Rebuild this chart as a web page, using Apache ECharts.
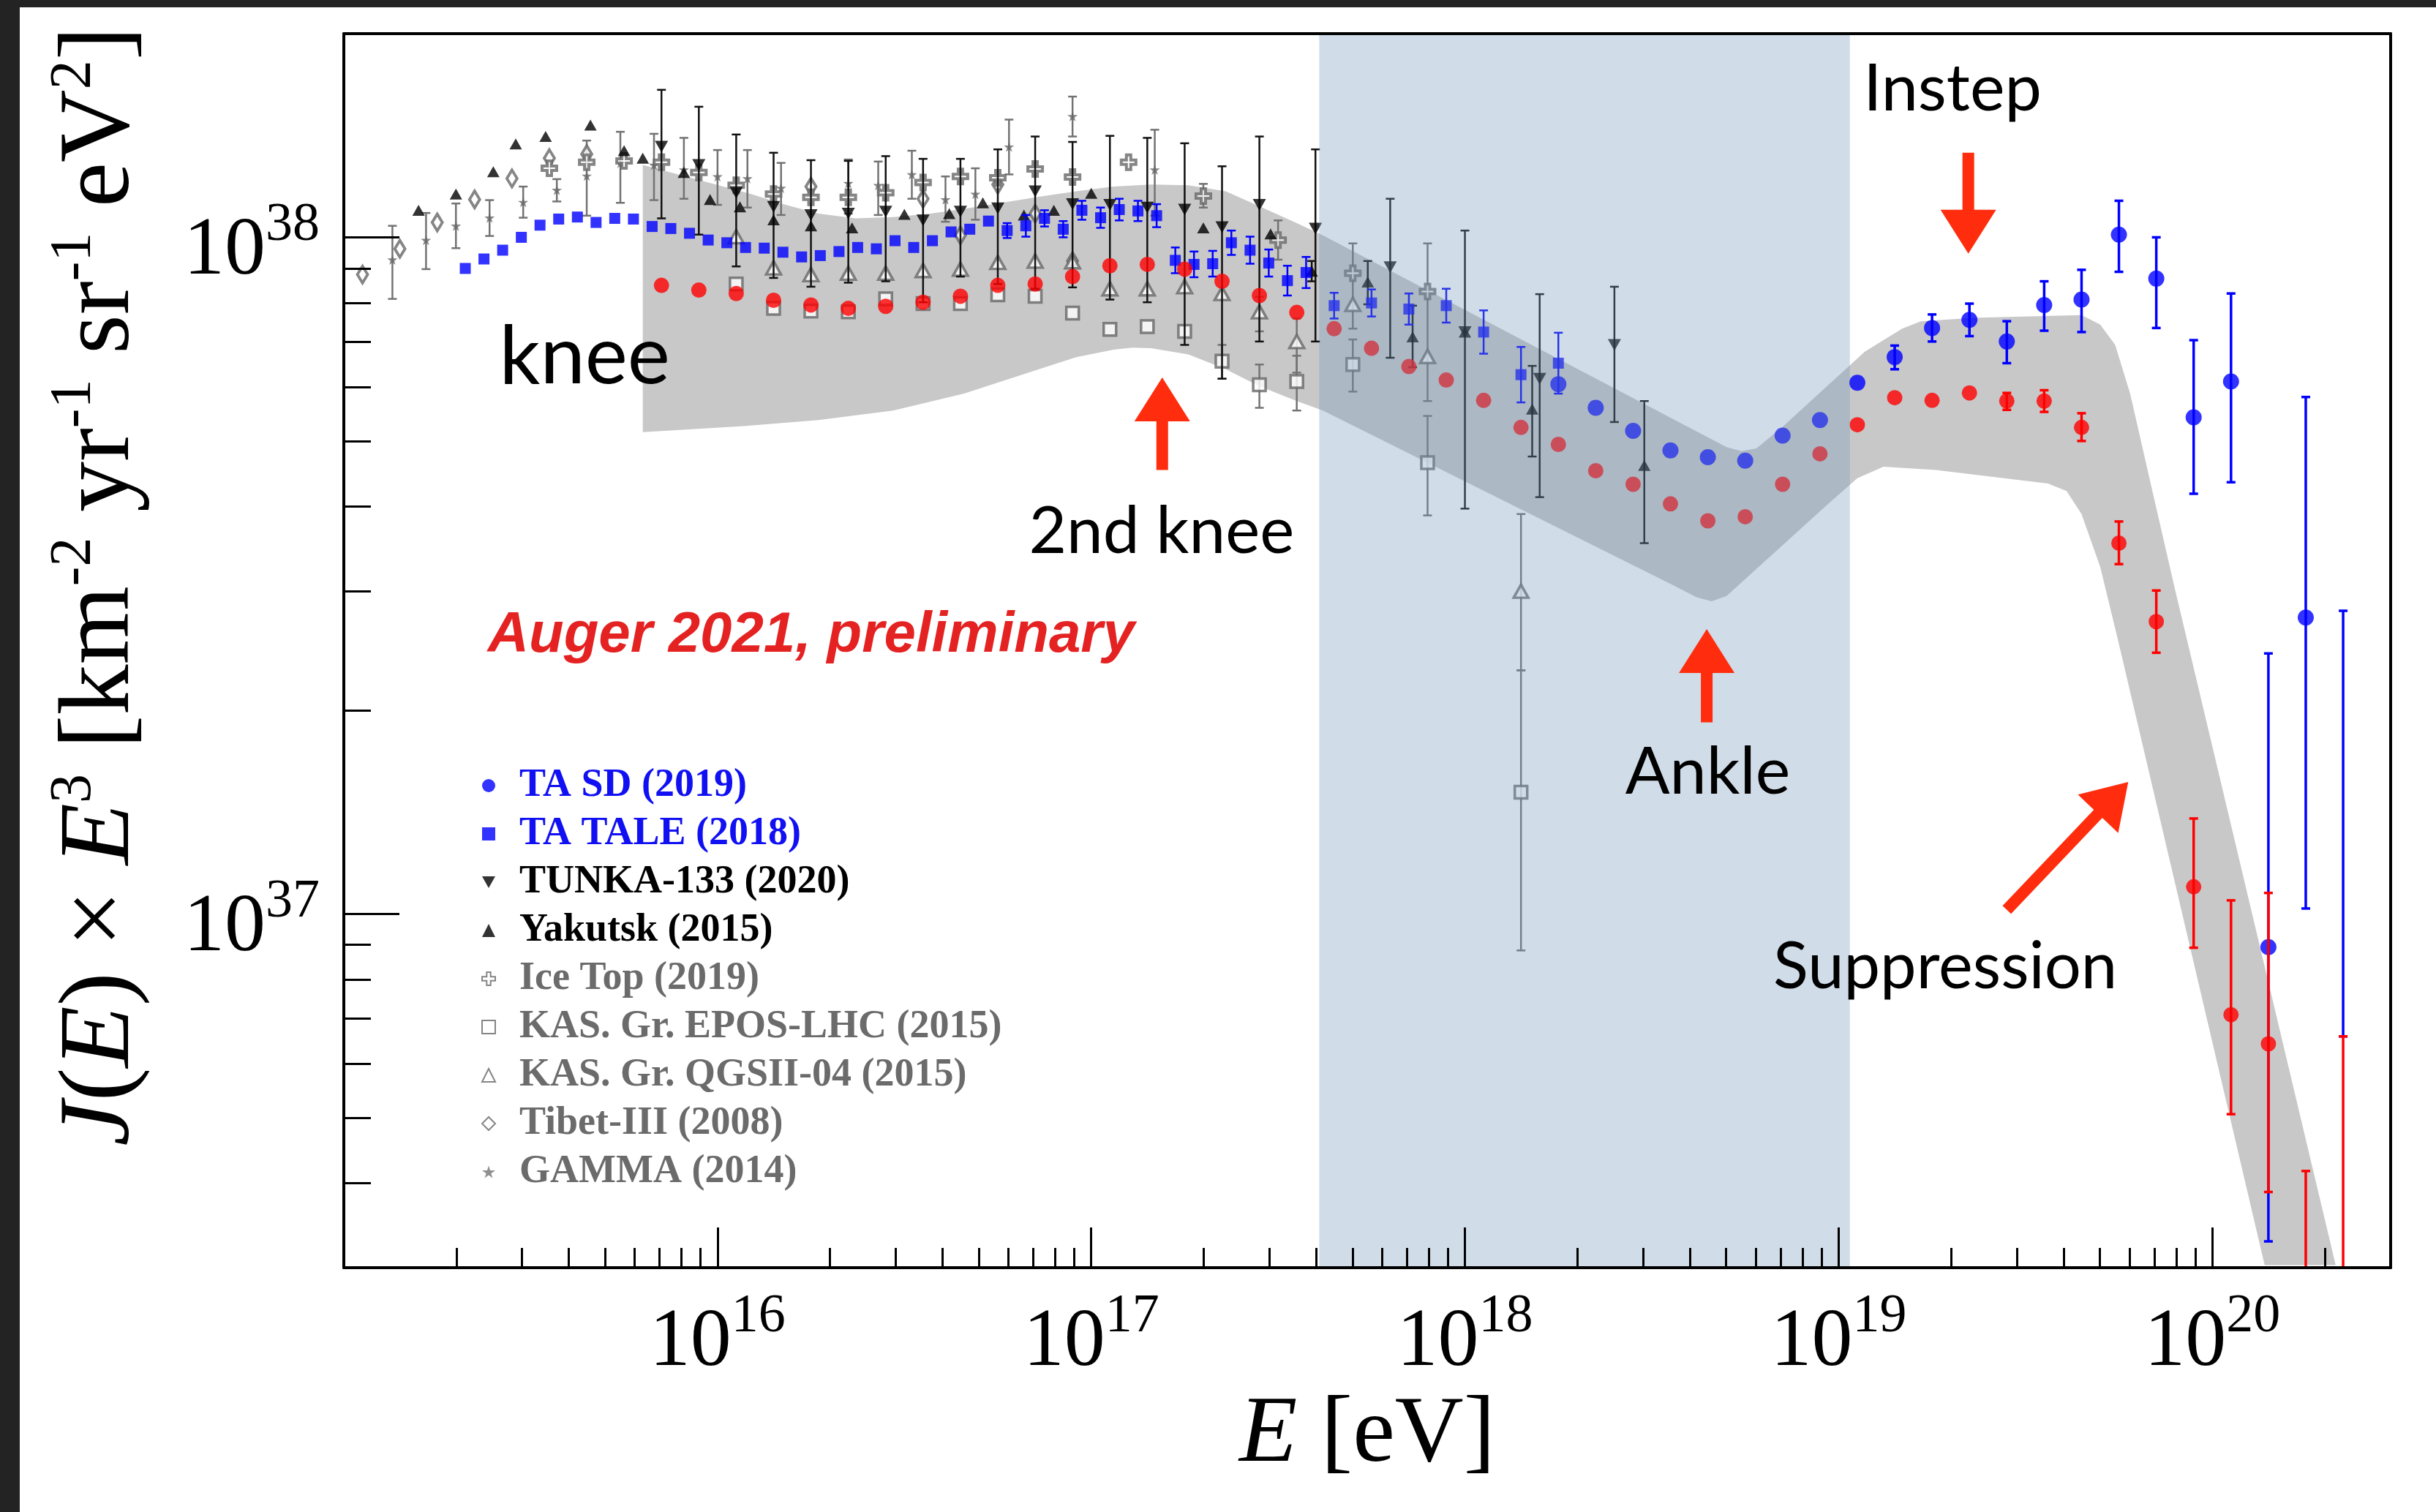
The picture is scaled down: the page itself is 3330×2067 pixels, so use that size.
<!DOCTYPE html>
<html>
<head>
<meta charset="utf-8">
<script src="https://cdn.jsdelivr.net/npm/echarts@6/dist/echarts.min.js"></script>
<style>
html,body{margin:0;padding:0;background:#fff;}
#main{width:3330px;height:2067px;}
</style>
</head>
<body>
<div id="main"></div>
<script>
// Axes are drawn in log10 units: x = log10(E / eV), y = log10(J(E) E^3 / km^-2 yr^-1 sr^-1 eV^2)
const xDecades = [16, 17, 18, 19, 20];
const yDecades = [37, 38];
const minorMultipliers = [2, 3, 4, 5, 6, 7, 8, 9];
const xRange = [15, Math.log10(3e20)];
const yRange = [Math.log10(3e36), Math.log10(2e38)];

// Auger 2021 (preliminary)
const augerLgE = [15.85,15.95,16.05,16.15,16.25,16.35,16.45,16.55,16.65,16.75,16.85,16.95,17.05,17.15,17.25,17.35,17.45,17.55,17.65,17.75,17.85,17.95,18.05,18.15,18.25,18.35,18.45,18.55,18.65,18.75,18.85,18.95,19.05,19.15,19.25,19.35,19.45,19.55,19.65,19.75,19.85,19.95,20.05,20.15];
const augerLgJ = [37.929,37.922,37.917,37.907,37.900,37.895,37.898,37.904,37.913,37.929,37.931,37.942,37.958,37.960,37.953,37.935,37.914,37.889,37.865,37.836,37.809,37.789,37.759,37.719,37.694,37.655,37.635,37.606,37.581,37.587,37.635,37.680,37.723,37.763,37.759,37.770,37.758,37.758,37.719,37.548,37.432,37.040,36.851,36.808];
const augerErrLgE = [19.45,19.55,19.65,19.75,19.85,19.95,20.05,20.15,20.25,20.35];
const augerErrLo  = [37.745,37.742,37.699,37.517,37.386,36.950,36.704,36.589,36.30,36.30];
const augerErrHi  = [37.770,37.774,37.740,37.580,37.478,37.141,37.020,37.031,36.620,36.819];

// TA SD (2019)
const tasdLgE = [18.25,18.35,18.45,18.55,18.65,18.75,18.85,18.95,19.05,19.15,19.25,19.35,19.45,19.55,19.65,19.75,19.85,19.95,20.05,20.15,20.25];
const tasdLgJ = [37.783,37.748,37.714,37.685,37.675,37.670,37.707,37.730,37.785,37.823,37.866,37.878,37.846,37.900,37.908,38.004,37.939,37.734,37.787,36.951,37.438];
const tasdErrLgE = [19.15,19.25,19.35,19.45,19.55,19.65,19.75,19.85,19.95,20.05,20.15,20.25,20.35];
const tasdErrLo  = [37.805,37.846,37.854,37.814,37.862,37.860,37.949,37.866,37.621,37.638,36.516,37.008,36.819];
const tasdErrHi  = [37.840,37.886,37.902,37.876,37.935,37.952,38.054,38.000,37.848,37.917,37.385,37.764,37.448];

// TA TALE (2018)
const taleLgE = [15.325,15.375,15.425,15.475,15.525,15.575,15.625,15.675,15.725,15.775,15.825,15.875,15.925,15.975,16.025,16.075,16.125,16.175,16.225,16.275,16.325,16.375,16.425,16.475,16.525,16.575,16.625,16.675,16.725,16.775,16.825,16.875,16.925,16.975,17.025,17.075,17.125,17.175,17.225,17.275,17.325,17.375,17.425,17.475,17.525,17.575,17.65,17.75,17.85,17.95,18.05,18.15,18.25];
const taleLgJ = [37.954,37.968,37.981,38.000,38.018,38.027,38.030,38.022,38.028,38.027,38.016,38.013,38.006,37.996,37.992,37.985,37.984,37.978,37.971,37.973,37.979,37.985,37.983,37.995,37.985,37.995,38.008,38.012,38.024,38.010,38.017,38.028,38.012,38.040,38.029,38.041,38.039,38.032,37.966,37.960,37.961,37.992,37.981,37.962,37.936,37.948,37.899,37.903,37.894,37.899,37.860,37.797,37.814];
const taleErr = [0,0,0,0,0,0,0,0,0,0,0,0,0,0,0,0,0,0,0,0,0,0,0,0,0,0,0,0,0,0.011,0.016,0.012,0.012,0.014,0.015,0.016,0.015,0.017,0.019,0.019,0.019,0.018,0.020,0.020,0.022,0.023,0.019,0.020,0.023,0.025,0.032,0.041,0.045];

// TUNKA-133 (2020)
const tunkaLgE = [15.85,15.95,16.05,16.15,16.25,16.35,16.45,16.55,16.65,16.75,16.85,16.95,17.05,17.15,17.25,17.35,17.45,17.60,17.80,18.00,18.20,18.40];
const tunkaLgJ = [38.134,38.107,38.066,38.045,38.033,38.035,38.038,38.025,38.038,38.043,38.068,38.049,38.048,38.044,38.041,38.015,38.048,38.013,37.956,37.860,37.791,37.841];
const tunkaLo  = [38.028,38.004,37.957,37.940,37.927,37.933,37.935,37.904,37.942,37.931,37.924,37.926,37.908,37.904,37.841,37.791,37.846,37.846,37.822,37.599,37.616,37.727];
const tunkaHi  = [38.218,38.193,38.152,38.125,38.114,38.113,38.120,38.116,38.116,38.130,38.149,38.141,38.150,38.147,38.139,38.105,38.149,38.130,38.057,38.010,37.916,37.927];

// Yakutsk (2015)
const yakLgE = [15.20,15.30,15.40,15.46,15.54,15.66,15.75,15.80,15.91,15.98,16.06,16.15,16.25,16.36,16.50,16.62,16.71,16.82,16.90,17.00,17.30,17.48,17.59,17.74,17.86,18.00,18.18,18.48];
const yakLgJ = [38.040,38.064,38.097,38.138,38.149,38.166,38.128,38.117,38.096,38.056,38.045,38.026,38.017,38.014,38.034,38.035,38.051,38.033,38.040,38.065,38.014,38.005,37.950,37.934,37.853,37.860,37.746,37.663];
const yakErrLgE = [17.59,17.74,17.86,18.18,18.48];
const yakErrLo  = [37.935,37.901,37.808,37.676,37.548];
const yakErrHi  = [37.965,37.965,37.899,37.810,37.758];

// IceTop (2019)
const iceLgE = [15.55,15.65,15.75,15.85,15.95,16.05,16.15,16.25,16.35,16.45,16.55,16.65,16.75,16.85,16.95,17.10,17.30,17.50,17.70,17.90];
const iceLgJ = [38.102,38.111,38.113,38.111,38.096,38.077,38.064,38.059,38.059,38.066,38.081,38.090,38.088,38.101,38.089,38.111,38.061,37.996,37.947,37.920];
const iceErrLgE = [17.30,17.50,17.70,17.90];
const iceErrLo  = [38.044,37.967,37.865,37.758];
const iceErrHi  = [38.079,38.025,37.991,37.991];

// KASCADE-Grande, EPOS-LHC (2015)
const kgEposLgE = [16.05,16.15,16.25,16.35,16.45,16.55,16.65,16.75,16.85,16.95,17.05,17.15,17.25,17.35,17.45,17.55,17.70,17.90,18.15];
const kgEposLgJ = [37.931,37.895,37.891,37.890,37.909,37.902,37.902,37.915,37.913,37.888,37.864,37.868,37.861,37.817,37.782,37.787,37.812,37.667,37.180];
const kgEposErrLgE = [17.35,17.45,17.55,17.70,17.90,18.15];
const kgEposErrLo  = [37.791,37.748,37.744,37.772,37.589,36.946];
const kgEposErrHi  = [37.841,37.812,37.825,37.849,37.736,37.360];

// KASCADE-Grande, QGSJet-II-04 (2015)
const kgQgsLgE = [16.05,16.15,16.25,16.35,16.45,16.55,16.65,16.75,16.85,16.95,17.05,17.15,17.25,17.35,17.45,17.55,17.70,17.90,18.15];
const kgQgsLgJ = [38.001,37.955,37.945,37.947,37.947,37.951,37.953,37.963,37.965,37.964,37.924,37.924,37.927,37.917,37.890,37.846,37.901,37.824,37.477];
const kgQgsErrLgE = [17.45,17.55,18.15];
const kgQgsErrLo  = [37.861,37.800,37.360];
const kgQgsErrHi  = [37.912,37.880,37.591];

// Tibet-III (2008)
const tibetLgE = [15.05,15.15,15.25,15.35,15.45,15.55,15.65,16.25,16.55,16.65,16.75,16.85,16.95];
const tibetLgJ = [37.945,37.983,38.022,38.056,38.087,38.117,38.123,38.075,38.057,38.003,38.078,38.035,37.965];

// GAMMA (2014)
const gammaLgE = [15.13,15.22,15.30,15.39,15.48,15.57,15.65,15.74,15.83,15.91,16.00,16.08,16.17,16.35,16.43,16.52,16.61,16.69,16.78,16.95,17.17];
const gammaLgJ = [37.967,37.996,38.017,38.029,38.052,38.070,38.091,38.110,38.107,38.100,38.090,38.087,38.073,38.080,38.077,38.093,38.056,38.064,38.134,38.179,38.100];
const gammaLo  = [37.909,37.953,37.984,38.002,38.029,38.053,38.032,38.051,38.055,38.057,38.048,38.044,38.033,38.035,38.033,38.057,38.023,38.026,38.093,38.149,38.032];
const gammaHi  = [38.017,38.036,38.050,38.055,38.075,38.086,38.143,38.156,38.153,38.147,38.129,38.129,38.110,38.115,38.112,38.128,38.090,38.102,38.174,38.208,38.159];

// schematic band: upper and lower edges
const bandUpLgE = [15.80,16.09,16.17,16.27,16.37,16.47,16.57,16.66,16.76,16.86,16.96,17.06,17.16,17.26,17.36,17.45,17.55,17.62,18.70,18.74,18.78,18.85,19.07,19.17,19.22,19.36,19.65,19.70,19.74,19.78,19.83,19.90,20.33];
const bandUpLgJ = [38.107,38.064,38.050,38.035,38.028,38.030,38.035,38.042,38.051,38.060,38.068,38.075,38.078,38.077,38.068,38.046,38.021,38.003,37.690,37.684,37.688,37.720,37.831,37.865,37.876,37.881,37.885,37.871,37.841,37.769,37.648,37.480,36.481];
const bandLoLgE = [15.80,16.07,16.27,16.47,16.66,16.86,16.96,17.06,17.11,17.16,17.26,17.36,17.45,17.55,17.62,18.56,18.62,18.66,18.70,18.76,18.97,19.05,19.12,19.26,19.56,19.61,19.65,19.70,19.75,20.14];
const bandLoLgJ = [37.712,37.721,37.730,37.744,37.769,37.805,37.823,37.834,37.837,37.836,37.827,37.805,37.780,37.758,37.744,37.485,37.468,37.462,37.470,37.500,37.605,37.644,37.661,37.656,37.636,37.625,37.591,37.513,37.399,36.481];

// energy interval highlighted in blue
const shadedLgE = [17.61, 19.03];

// annotation arrows: tail (lgE, lgJ) -> tip (lgE, lgJ)
const arrows = [
  [17.19, 37.656, 17.19, 37.793],
  [18.647, 37.283, 18.647, 37.421],
  [19.347, 38.125, 19.347, 37.976],
  [19.45, 37.006, 19.775, 37.195]
];
const notes = [
  {text: 'knee', at: [15.416, 37.823], size: 110},
  {text: '2nd knee', at: [16.833, 37.564], size: 89},
  {text: 'Ankle', at: [18.429, 37.209], size: 90},
  {text: 'Instep', at: [19.066, 38.219], size: 90},
  {text: 'Suppression', at: [18.825, 36.921], size: 88.5},
  {text: 'Auger 2021, preliminary', at: [15.385, 37.411], size: 78, color: '#e52222', weight: 'bold', style: 'italic', family: '"Liberation Sans", Arial, sans-serif'}
];

const SERIF = '"Liberation Serif", "Times New Roman", serif';
const SANS = 'Lato, "Noto Sans", sans-serif';
const GREY = '#666666';
const RED = '#ff0000';
const BLUE = '#0000ff';
const ARROW = '#ff2d0d';

function minorTicks(decades, lo, hi) {
  const out = [];
  decades.forEach(n => minorMultipliers.forEach(k => {
    const v = n + Math.log10(k);
    if (v > lo && v < hi) out.push(v);
  }));
  return out;
}
const xMinor = minorTicks([15, 16, 17, 18, 19, 20], xRange[0], xRange[1]);
const yMinor = minorTicks([36, 37, 38], yRange[0], yRange[1]);

const pairs = (xs, ys) => xs.map((x, i) => [x, ys[i]]);
const triples = (xs, lo, hi) => xs.map((x, i) => [x, lo[i], hi[i]]);

function errorBars(name, data, color, width, cap, z) {
  return {
    type: 'custom', name: name, z: z, clip: true, silent: true,
    encode: {x: 0, y: [1, 2]},
    data: data,
    renderItem: function (params, api) {
      const x = api.value(0);
      const a = api.coord([x, api.value(2)]);
      const b = api.coord([x, api.value(1)]);
      const st = {stroke: color, lineWidth: width};
      return {type: 'group', children: [
        {type: 'line', shape: {x1: a[0], y1: a[1], x2: b[0], y2: b[1]}, style: st},
        {type: 'line', shape: {x1: a[0] - cap, y1: a[1], x2: a[0] + cap, y2: a[1]}, style: st},
        {type: 'line', shape: {x1: b[0] - cap, y1: b[1], x2: b[0] + cap, y2: b[1]}, style: st}
      ]};
    }
  };
}

function points(name, data, symbol, size, itemStyle, z, extra) {
  return Object.assign({
    type: 'scatter', name: name, data: data, symbol: symbol, symbolSize: size,
    itemStyle: itemStyle, z: z, silent: true, animation: false
  }, extra || {});
}

const taleBars = [];
taleLgE.forEach((x, i) => { if (taleErr[i] > 0) taleBars.push([x, taleLgJ[i] - taleErr[i], taleLgJ[i] + taleErr[i]]); });

const PLUS = 'path://M35,0H65V35H100V65H65V100H35V65H0V35H35Z';
const STAR = 'path://M50,0L61,35L98,35L68,57L79,91L50,70L21,91L32,57L2,35L39,35Z';
const DOWN = 'path://M0,0L100,0L50,88Z';
const hollow = {color: '#ffffff', borderColor: GREY, borderWidth: 4};

const series = [
  // band
  {
    type: 'custom', name: 'band', z: 1, silent: true, clip: true,
    data: [[bandUpLgE[0], bandUpLgJ[0]]],
    renderItem: function (params, api) {
      const pts = [];
      bandUpLgE.forEach((x, i) => pts.push(api.coord([x, bandUpLgJ[i]])));
      for (let i = bandLoLgE.length - 1; i >= 0; i--) pts.push(api.coord([bandLoLgE[i], bandLoLgJ[i]]));
      return {type: 'polygon', shape: {points: pts, smooth: 0}, style: {fill: '#c8c8c8'}};
    }
  },
  errorBars('GAMMA err', triples(gammaLgE, gammaLo, gammaHi), '#737373', 2.5, 6, 3),
  errorBars('IceTop err', triples(iceErrLgE, iceErrLo, iceErrHi), '#737373', 2.5, 6, 3),
  errorBars('KG EPOS err', triples(kgEposErrLgE, kgEposErrLo, kgEposErrHi), '#737373', 2.5, 6, 3),
  errorBars('KG QGS err', triples(kgQgsErrLgE, kgQgsErrLo, kgQgsErrHi), '#737373', 2.5, 6, 3),
  points('GAMMA (2014)', pairs(gammaLgE, gammaLgJ), STAR, 14, {color: '#666666'}, 3),
  points('Tibet-III (2008)', pairs(tibetLgE, tibetLgJ), 'diamond', [14, 23], hollow, 3),
  points('KAS. Gr. QGSII-04 (2015)', pairs(kgQgsLgE, kgQgsLgJ), 'triangle', [20, 18], Object.assign({}, hollow, {borderWidth: 3.5}), 3),
  points('KAS. Gr. EPOS-LHC (2015)', pairs(kgEposLgE, kgEposLgJ), 'rect', 17, Object.assign({}, hollow, {borderWidth: 3.5}), 3),
  points('Ice Top (2019)', pairs(iceLgE, iceLgJ), PLUS, 20, hollow, 3),
  errorBars('TUNKA err', triples(tunkaLgE, tunkaLo, tunkaHi), '#111111', 2.5, 6, 4),
  errorBars('Yakutsk err', triples(yakErrLgE, yakErrLo, yakErrHi), '#111111', 2.5, 6, 4),
  points('Yakutsk (2015)', pairs(yakLgE, yakLgJ), 'triangle', [17, 15], {color: '#000'}, 4),
  points('TUNKA-133 (2020)', pairs(tunkaLgE, tunkaLgJ), DOWN, [18, 16], {color: '#000'}, 4),
  errorBars('TALE err', taleBars, BLUE, 2.5, 6, 5),
  points('TA TALE (2018)', pairs(taleLgE, taleLgJ), 'rect', 15, {color: BLUE}, 5),
  errorBars('TA SD err', triples(tasdErrLgE, tasdErrLo, tasdErrHi), BLUE, 3.5, 6, 5),
  points('TA SD (2019)', pairs(tasdLgE, tasdLgJ), 'circle', 22, {color: BLUE}, 5),
  errorBars('Auger err', triples(augerErrLgE, augerErrLo, augerErrHi), RED, 3.5, 6, 6),
  points('Auger 2021', pairs(augerLgE, augerLgJ), 'circle', 21, {color: RED}, 6),
  // highlighted energy interval
  {
    type: 'custom', name: 'shade', z: 8, silent: true,
    data: [shadedLgE],
    renderItem: function (params, api) {
      const cs = params.coordSys;
      const x0 = api.coord([api.value(0), yRange[0]])[0];
      const x1 = api.coord([api.value(1), yRange[0]])[0];
      return {type: 'rect', shape: {x: x0, y: cs.y, width: x1 - x0, height: cs.height},
        style: {fill: 'rgba(117,152,187,0.34)'}};
    }
  },
  {
    type: 'custom', name: 'arrows', z: 12, silent: true, clip: false,
    data: arrows,
    renderItem: function (params, api) {
      const a = api.coord([api.value(0), api.value(1)]);
      const b = api.coord([api.value(2), api.value(3)]);
      const dx = b[0] - a[0], dy = b[1] - a[1], len = Math.hypot(dx, dy);
      const ux = dx / len, uy = dy / len, nx = -uy, ny = ux;
      const HL = 60, HW = 38;
      const base = [b[0] - ux * HL, b[1] - uy * HL];
      return {type: 'group', children: [
        {type: 'line', shape: {x1: a[0], y1: a[1], x2: base[0] + ux * 6, y2: base[1] + uy * 6},
          style: {stroke: ARROW, lineWidth: 16}},
        {type: 'polygon', shape: {points: [b, [base[0] + nx * HW, base[1] + ny * HW], [base[0] - nx * HW, base[1] - ny * HW]]},
          style: {fill: ARROW}}
      ]};
    }
  },
  {
    type: 'custom', name: 'notes', z: 12, silent: true, clip: false,
    data: notes.map(n => n.at),
    renderItem: function (params, api) {
      const n = notes[params.dataIndex];
      const p = api.coord([api.value(0), api.value(1)]);
      return {type: 'text', x: p[0], y: p[1], style: {
        text: n.text, fill: n.color || '#000', fontSize: n.size,
        fontFamily: n.family || SANS, fontWeight: n.weight || 'normal', fontStyle: n.style || 'normal',
        align: 'left', verticalAlign: 'middle'}};
    }
  }
];

const tickRich = {
  b: {fontFamily: SERIF, fontSize: 112, lineHeight: 112, color: '#000', verticalAlign: 'bottom'},
  s: {fontFamily: SERIF, fontSize: 74, lineHeight: 74, color: '#000', verticalAlign: 'bottom', padding: [0, 0, 55, 0]}
};
const tickFmt = v => '{b|10}{s|' + Math.round(v) + '}';

const chart = echarts.init(document.getElementById('main'), null, {renderer: 'canvas', width: 3330, height: 2067});
chart.setOption({
  animation: false,
  backgroundColor: '#ffffff',
  graphic: [
    {type: 'rect', shape: {x: 0, y: 0, width: 27, height: 2067}, style: {fill: '#232323'}, z: 100},
    {type: 'rect', shape: {x: 0, y: 0, width: 3330, height: 10}, style: {fill: '#232323'}, z: 100}
  ],
  grid: {left: 470, top: 46, width: 2798, height: 1687, show: false},
  legend: {
    orient: 'vertical', left: 653, top: 1041, itemWidth: 18, itemHeight: 18, itemGap: 10,
    selectedMode: false,
    textStyle: {fontFamily: SERIF, fontWeight: 'bold', fontSize: 54, lineHeight: 56, padding: [0, 0, 0, 28]},
    data: [
      {name: 'TA SD (2019)', icon: 'circle', itemStyle: {color: BLUE}, textStyle: {color: '#1010f2'}},
      {name: 'TA TALE (2018)', icon: 'rect', itemStyle: {color: BLUE}, textStyle: {color: '#1010f2'}},
      {name: 'TUNKA-133 (2020)', icon: DOWN, itemStyle: {color: '#000'}, textStyle: {color: '#000'}},
      {name: 'Yakutsk (2015)', icon: 'triangle', itemStyle: {color: '#000'}, textStyle: {color: '#000'}},
      {name: 'Ice Top (2019)', icon: PLUS, itemStyle: {color: '#fff', borderColor: GREY, borderWidth: 2}, textStyle: {color: '#6b6b6b'}},
      {name: 'KAS. Gr. EPOS-LHC (2015)', icon: 'rect', itemStyle: {color: '#fff', borderColor: GREY, borderWidth: 2}, textStyle: {color: '#6b6b6b'}},
      {name: 'KAS. Gr. QGSII-04 (2015)', icon: 'triangle', itemStyle: {color: '#fff', borderColor: GREY, borderWidth: 2}, textStyle: {color: '#6b6b6b'}},
      {name: 'Tibet-III (2008)', icon: 'diamond', itemStyle: {color: '#fff', borderColor: GREY, borderWidth: 2}, textStyle: {color: '#6b6b6b'}},
      {name: 'GAMMA (2014)', icon: STAR, itemStyle: {color: '#747474'}, textStyle: {color: '#6b6b6b'}}
    ]
  },
  xAxis: [
    {
      type: 'value', min: xRange[0], max: xRange[1], position: 'bottom', z: 15,
      name: '{i|E} [eV]', nameLocation: 'middle', nameGap: 160,
      nameTextStyle: {fontFamily: SERIF, fontSize: 130, color: '#000',
        rich: {i: {fontFamily: SERIF, fontSize: 130, fontStyle: 'italic', color: '#000'}}},
      axisLine: {show: true, onZero: false, lineStyle: {color: '#000', width: 4}},
      axisTick: {show: true, inside: true, length: 55, customValues: xDecades, lineStyle: {color: '#000', width: 3}},
      axisLabel: {show: true, customValues: xDecades, margin: 48, formatter: tickFmt, rich: tickRich},
      splitLine: {show: false}
    },
    {
      type: 'value', min: xRange[0], max: xRange[1], position: 'bottom', z: 15,
      axisLine: {show: false},
      axisTick: {show: true, inside: true, length: 27, customValues: xMinor, lineStyle: {color: '#000', width: 3}},
      axisLabel: {show: false}, splitLine: {show: false}
    },
    {
      type: 'value', min: xRange[0], max: xRange[1], position: 'top', z: 15,
      axisLine: {show: true, onZero: false, lineStyle: {color: '#000', width: 4}},
      axisTick: {show: false}, axisLabel: {show: false}, splitLine: {show: false}
    }
  ],
  yAxis: [
    {
      type: 'value', min: yRange[0], max: yRange[1], position: 'left', z: 15,
      name: '{i|J}{r|(}{i|E}{r|) × }{i|E}{s|3}{r| [km}{s|-2}{r| yr}{s|-1}{r| sr}{s|-1}{r| eV}{s|2}{r|]}',
      nameLocation: 'middle', nameRotate: 90, nameGap: 262,
      nameTextStyle: {fontFamily: SERIF, fontSize: 138, color: '#000', padding: [0, 0, 0, 176],
        rich: {
          i: {fontFamily: SERIF, fontSize: 138, lineHeight: 138, fontStyle: 'italic', color: '#000', verticalAlign: 'bottom'},
          r: {fontFamily: SERIF, fontSize: 138, lineHeight: 138, color: '#000', verticalAlign: 'bottom'},
          s: {fontFamily: SERIF, fontSize: 80, lineHeight: 80, color: '#000', verticalAlign: 'bottom', padding: [0, 0, 66, 0]}
        }},
      axisLine: {show: true, onZero: false, lineStyle: {color: '#000', width: 4}},
      axisTick: {show: true, inside: true, length: 76, customValues: yDecades, lineStyle: {color: '#000', width: 3}},
      axisLabel: {show: true, customValues: yDecades, margin: 33, formatter: tickFmt, rich: tickRich, padding: [40, 0, 0, 0]},
      splitLine: {show: false}
    },
    {
      type: 'value', min: yRange[0], max: yRange[1], position: 'left', z: 15,
      axisLine: {show: false},
      axisTick: {show: true, inside: true, length: 37, customValues: yMinor, lineStyle: {color: '#000', width: 3}},
      axisLabel: {show: false}, splitLine: {show: false}
    },
    {
      type: 'value', min: yRange[0], max: yRange[1], position: 'right', z: 15,
      axisLine: {show: true, onZero: false, lineStyle: {color: '#000', width: 4}},
      axisTick: {show: false}, axisLabel: {show: false}, splitLine: {show: false}
    }
  ],
  series: series
});
</script>
</body>
</html>
